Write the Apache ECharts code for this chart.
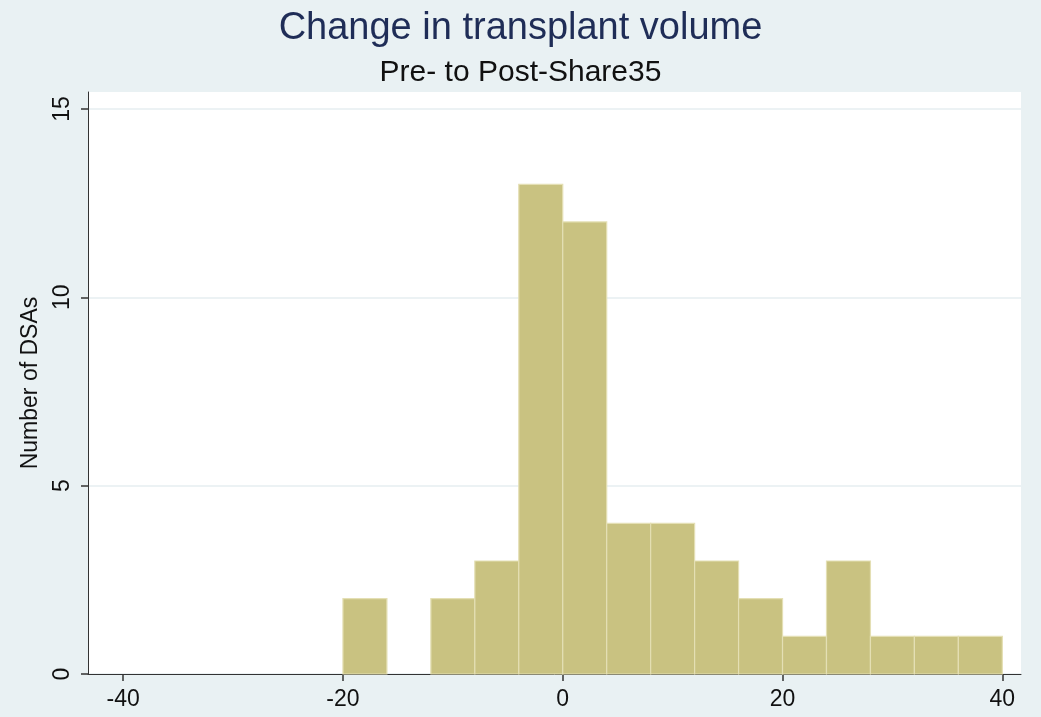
<!DOCTYPE html>
<html>
<head>
<meta charset="utf-8">
<script src="https://cdn.jsdelivr.net/npm/echarts@6/dist/echarts.min.js"></script>
<style>
  html, body { margin: 0; padding: 0; background: #e9f1f3; }
  #chart { width: 1041px; height: 717px; }
</style>
</head>
<body>
<div id="chart"></div>
<script>
// histogram bins (width 4) and counts
const binStarts = [-20, -16, -12, -8, -4, 0, 4, 8, 12, 16, 20, 24, 28, 32, 36]
const counts = [2, 0, 2, 3, 13, 12, 4, 4, 3, 2, 1, 3, 1, 1, 1]
const binWidth = 4
const xTicks = [-40, -20, 0, 20, 40]
const yTicks = [0, 5, 10, 15]

const chart = echarts.init(document.getElementById('chart'))
const font = 'Liberation Sans, Arial, sans-serif'

chart.setOption({
  backgroundColor: '#e9f1f3',
  title: [
    {
      text: 'Change in transplant volume',
      left: 'center',
      top: 5,
      textStyle: { fontFamily: font, fontSize: 38, fontWeight: 'normal', color: '#1f2d57' }
    },
    {
      text: 'Pre- to Post-Share35',
      left: 'center',
      top: 53,
      textStyle: { fontFamily: font, fontSize: 30, fontWeight: 'normal', color: '#111' }
    }
  ],
  grid: {
    left: 88, right: 20, top: 92, bottom: 43,
    show: true, backgroundColor: '#ffffff', borderWidth: 0
  },
  xAxis: {
    type: 'value',
    min: -43.2,
    max: 41.7,
    axisLine: { show: true, onZero: false, lineStyle: { color: '#333', width: 1 } },
    axisTick: { show: true, customValues: xTicks, length: 7, lineStyle: { color: '#333', width: 1.5 } },
    axisLabel: {
      customValues: xTicks,
      fontFamily: font, fontSize: 23, color: '#111', margin: 14
    },
    splitLine: { show: false }
  },
  yAxis: {
    type: 'value',
    min: 0,
    max: 15.45,
    name: 'Number of DSAs',
    nameLocation: 'middle',
    nameRotate: 90,
    nameGap: 46,
    nameTextStyle: { fontFamily: font, fontSize: 23, color: '#111' },
    axisLine: { show: true, onZero: false, lineStyle: { color: '#333', width: 1 } },
    axisTick: { show: true, customValues: yTicks, length: 7, lineStyle: { color: '#333', width: 1.5 } },
    axisLabel: {
      customValues: yTicks,
      rotate: 90,
      fontFamily: font, fontSize: 23, color: '#111', margin: 14
    },
    splitLine: { show: true, lineStyle: { color: '#e6eef0', width: 1.5 } }
  },
  series: [{
    type: 'custom',
    data: binStarts.map((s, i) => [s, s + binWidth, counts[i]]),
    renderItem: function (params, api) {
      const h = api.value(2)
      if (!h) return null
      const p0 = api.coord([api.value(0), h])
      const p1 = api.coord([api.value(1), 0])
      return {
        type: 'rect',
        shape: { x: p0[0], y: p0[1], width: p1[0] - p0[0], height: p1[1] - p0[1] },
        style: { fill: '#c9c281', stroke: '#e4dfb4', lineWidth: 1.2 }
      }
    }
  }]
})
</script>
</body>
</html>
